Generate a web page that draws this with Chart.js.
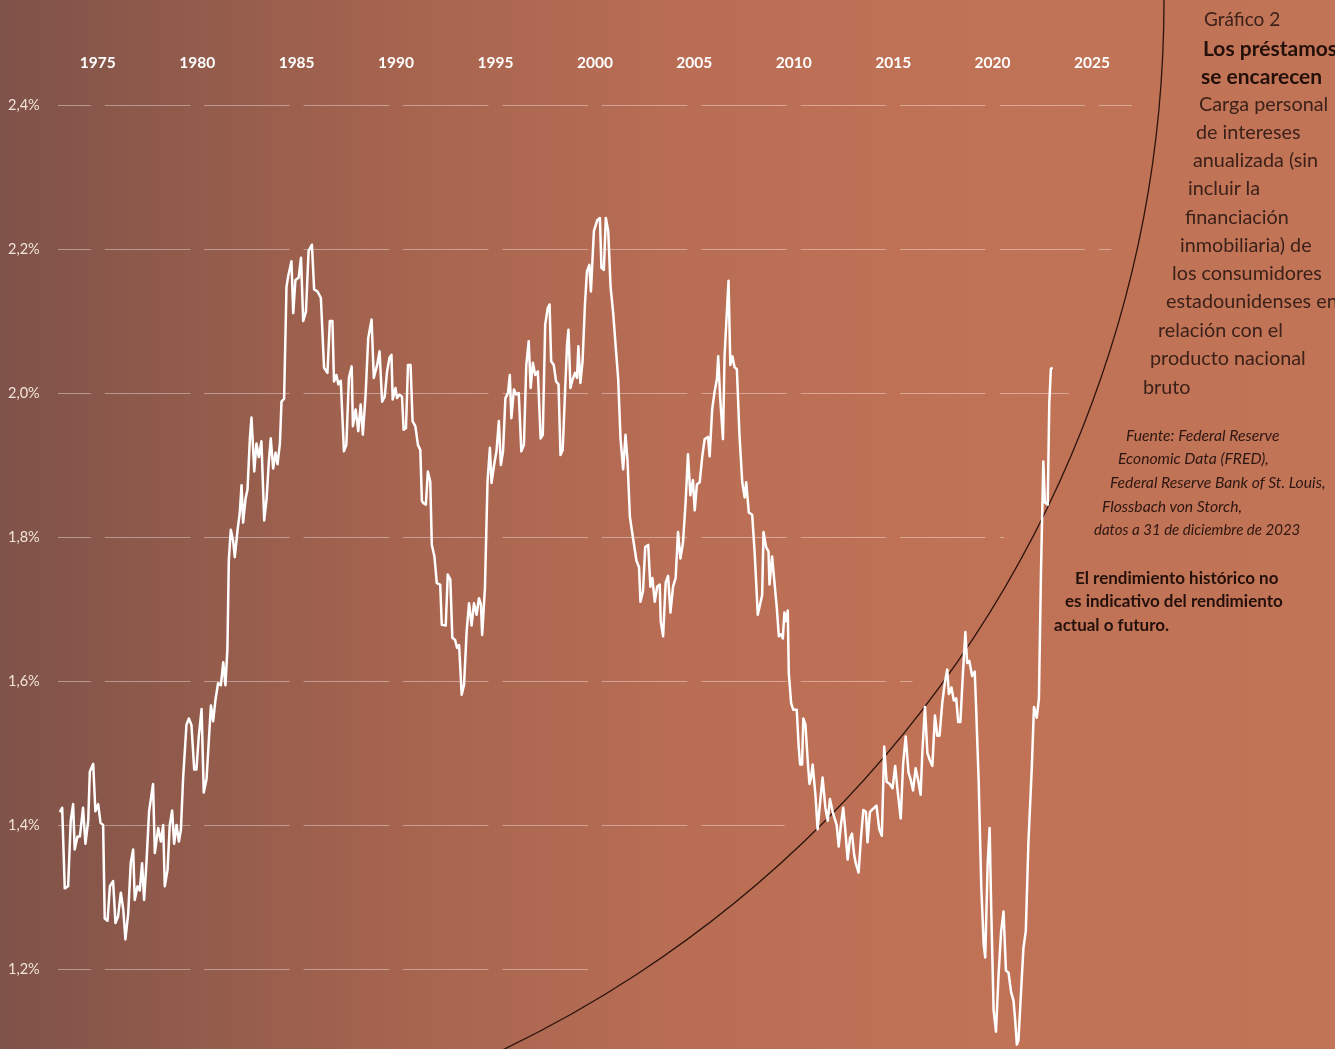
<!DOCTYPE html>
<html lang="es">
<head>
<meta charset="utf-8">
<title>Los préstamos se encarecen</title>
<script src="https://cdn.jsdelivr.net/npm/chart.js@4.4.1/dist/chart.umd.min.js"></script>
<style>
  html, body { margin: 0; padding: 0; }
  body { width: 1335px; height: 1049px; overflow: hidden; position: relative; font-family: Lato, 'Open Sans', sans-serif; }
  #grafico { position: absolute; left: 0; top: 0; }
  .t { position: absolute; white-space: nowrap; line-height: 1; font-size: 19.8px; color: #3b2119; }
  .g { font-size: 19px; }
  .b { font-weight: bold; font-size: 21px; color: #24100a; }
  .f { position: absolute; white-space: nowrap; line-height: 1; font-size: 15.7px; font-style: italic; color: #2d1610; }
  .d { position: absolute; white-space: nowrap; line-height: 1; font-size: 17px; font-weight: bold; color: #24100a; }
</style>
</head>
<body>
<canvas id="grafico" width="1335" height="1049"></canvas>

<div class="t g" style="left:1204px;top:9px">Gráfico 2</div>
<div class="t b" style="left:1203px;top:37px">Los préstamos</div>
<div class="t b" style="left:1201px;top:65px">se encarecen</div>
<div class="t" style="left:1199px;top:94px">Carga personal</div>
<div class="t" style="left:1196px;top:122px">de intereses</div>
<div class="t" style="left:1193px;top:150px">anualizada (sin</div>
<div class="t" style="left:1188px;top:178px">incluir la</div>
<div class="t" style="left:1185px;top:207px">financiación</div>
<div class="t" style="left:1180px;top:235px">inmobiliaria) de</div>
<div class="t" style="left:1172px;top:263px">los consumidores</div>
<div class="t" style="left:1166px;top:291px">estadounidenses en</div>
<div class="t" style="left:1158px;top:320px">relación con el</div>
<div class="t" style="left:1150px;top:348px">producto nacional</div>
<div class="t" style="left:1143px;top:377px">bruto</div>

<div class="f" style="left:1126px;top:428px">Fuente: Federal Reserve</div>
<div class="f" style="left:1118px;top:451px">Economic Data (FRED),</div>
<div class="f" style="left:1110px;top:475px">Federal Reserve Bank of St. Louis,</div>
<div class="f" style="left:1102px;top:499px">Flossbach von Storch,</div>
<div class="f" style="left:1094px;top:522px;font-size:15px">datos a 31 de diciembre de 2023</div>

<div class="d" style="left:1075px;top:569px">El rendimiento histórico no</div>
<div class="d" style="left:1065px;top:592px">es indicativo del rendimiento</div>
<div class="d" style="left:1054px;top:616px">actual o futuro.</div>

<script>
// eje x (años) y eje y (% del PNB)
const xTicks = [1975, 1980, 1985, 1990, 1995, 2000, 2005, 2010, 2015, 2020, 2025];
const yTicks = [1.2, 1.4, 1.6, 1.8, 2.0, 2.2, 2.4];

// fecha de cada observación (año decimal)
const anios = [
  1973.09, 1973.21, 1973.34, 1973.51, 1973.64, 1973.76, 1973.84, 1973.98, 1974.10, 1974.26,
  1974.38, 1974.52, 1974.60, 1974.77, 1974.88, 1975.02, 1975.14, 1975.27, 1975.35, 1975.49,
  1975.61, 1975.77, 1975.89, 1976.02, 1976.16, 1976.28, 1976.39, 1976.53, 1976.66, 1976.78,
  1976.86, 1977.00, 1977.11, 1977.23, 1977.33, 1977.45, 1977.58, 1977.78, 1977.87, 1978.04,
  1978.17, 1978.29, 1978.37, 1978.51, 1978.62, 1978.74, 1978.84, 1978.96, 1979.08, 1979.18,
  1979.29, 1979.46, 1979.58, 1979.71, 1979.85, 1979.96, 1980.08, 1980.22, 1980.33, 1980.47,
  1980.59, 1980.69, 1980.80, 1980.92, 1981.05, 1981.19, 1981.31, 1981.42, 1981.52, 1981.59,
  1981.69, 1981.81, 1981.89, 1982.03, 1982.14, 1982.23, 1982.31, 1982.43, 1982.53, 1982.65,
  1982.73, 1982.87, 1982.98, 1983.10, 1983.23, 1983.37, 1983.49, 1983.60, 1983.70, 1983.82,
  1983.94, 1984.04, 1984.16, 1984.24, 1984.37, 1984.49, 1984.58, 1984.74, 1984.83, 1984.94,
  1985.10, 1985.22, 1985.33, 1985.47, 1985.60, 1985.77, 1985.88, 1986.05, 1986.22, 1986.38,
  1986.55, 1986.67, 1986.80, 1986.88, 1987.00, 1987.10, 1987.22, 1987.38, 1987.50, 1987.63,
  1987.77, 1987.83, 1987.97, 1988.10, 1988.22, 1988.33, 1988.47, 1988.60, 1988.77, 1988.88,
  1989.05, 1989.17, 1989.30, 1989.43, 1989.55, 1989.67, 1989.77, 1989.83, 1989.97, 1990.05,
  1990.17, 1990.30, 1990.38, 1990.50, 1990.60, 1990.73, 1990.83, 1990.97, 1991.10, 1991.22,
  1991.30, 1991.38, 1991.50, 1991.60, 1991.72, 1991.80, 1991.93, 1992.05, 1992.22, 1992.30,
  1992.50, 1992.60, 1992.73, 1992.83, 1992.97, 1993.07, 1993.17, 1993.30, 1993.42, 1993.55,
  1993.67, 1993.80, 1993.92, 1994.05, 1994.17, 1994.27, 1994.33, 1994.47, 1994.60, 1994.72,
  1994.80, 1994.93, 1995.05, 1995.17, 1995.27, 1995.38, 1995.50, 1995.63, 1995.72, 1995.80,
  1995.93, 1996.05, 1996.17, 1996.30, 1996.43, 1996.55, 1996.67, 1996.77, 1996.88, 1997.00,
  1997.13, 1997.27, 1997.38, 1997.50, 1997.63, 1997.72, 1997.80, 1997.93, 1998.05, 1998.17,
  1998.27, 1998.38, 1998.50, 1998.60, 1998.67, 1998.77, 1998.88, 1999.00, 1999.10, 1999.17,
  1999.27, 1999.38, 1999.50, 1999.60, 1999.72, 1999.80, 1999.95, 2000.12, 2000.25, 2000.33,
  2000.45, 2000.55, 2000.67, 2000.79, 2000.92, 2001.05, 2001.17, 2001.29, 2001.42, 2001.54,
  2001.64, 2001.76, 2001.92, 2002.09, 2002.22, 2002.29, 2002.42, 2002.53, 2002.68, 2002.79,
  2002.89, 2003.01, 2003.13, 2003.26, 2003.31, 2003.43, 2003.56, 2003.68, 2003.80, 2003.93,
  2004.06, 2004.18, 2004.30, 2004.43, 2004.57, 2004.68, 2004.80, 2004.93, 2005.02, 2005.13,
  2005.27, 2005.40, 2005.52, 2005.69, 2005.77, 2005.90, 2006.02, 2006.14, 2006.20, 2006.30,
  2006.44, 2006.52, 2006.61, 2006.72, 2006.81, 2006.91, 2007.02, 2007.14, 2007.27, 2007.41,
  2007.53, 2007.61, 2007.74, 2007.91, 2008.03, 2008.11, 2008.19, 2008.31, 2008.41, 2008.48,
  2008.61, 2008.73, 2008.78, 2008.91, 2009.03, 2009.15, 2009.25, 2009.36, 2009.45, 2009.53,
  2009.62, 2009.70, 2009.75, 2009.87, 2009.98, 2010.15, 2010.25, 2010.32, 2010.42, 2010.48,
  2010.59, 2010.70, 2010.79, 2010.87, 2010.95, 2011.09, 2011.20, 2011.32, 2011.45, 2011.59,
  2011.71, 2011.82, 2011.96, 2012.09, 2012.16, 2012.26, 2012.37, 2012.49, 2012.59, 2012.71,
  2012.83, 2012.93, 2013.04, 2013.13, 2013.26, 2013.38, 2013.50, 2013.63, 2013.71, 2013.83,
  2013.93, 2014.05, 2014.16, 2014.30, 2014.43, 2014.55, 2014.67, 2014.83, 2014.97, 2015.10,
  2015.22, 2015.38, 2015.50, 2015.63, 2015.77, 2015.88, 2016.00, 2016.13, 2016.27, 2016.38,
  2016.47, 2016.60, 2016.72, 2016.83, 2016.97, 2017.10, 2017.22, 2017.33, 2017.47, 2017.60,
  2017.72, 2017.80, 2017.93, 2018.05, 2018.17, 2018.27, 2018.38, 2018.50, 2018.63, 2018.72,
  2018.83, 2018.97, 2019.10, 2019.17, 2019.30, 2019.43, 2019.55, 2019.63, 2019.75, 2019.85,
  2019.93, 2020.05, 2020.17, 2020.30, 2020.43, 2020.55, 2020.67, 2020.80, 2020.93, 2021.05,
  2021.13, 2021.22, 2021.30, 2021.43, 2021.55, 2021.67, 2021.80, 2021.97, 2022.08, 2022.22,
  2022.33, 2022.43, 2022.55, 2022.63, 2022.77, 2022.85, 2022.93, 2023.02
];

// carga de intereses en % del PNB
const carga = [
  1.418, 1.424, 1.312, 1.315, 1.406, 1.429, 1.366, 1.384, 1.384, 1.424,
  1.374, 1.406, 1.474, 1.485, 1.419, 1.429, 1.403, 1.400, 1.270, 1.267,
  1.315, 1.322, 1.264, 1.273, 1.306, 1.283, 1.241, 1.277, 1.348, 1.366,
  1.296, 1.315, 1.309, 1.347, 1.296, 1.348, 1.419, 1.457, 1.361, 1.396,
  1.377, 1.400, 1.315, 1.338, 1.400, 1.420, 1.374, 1.400, 1.377, 1.393,
  1.464, 1.539, 1.548, 1.539, 1.477, 1.477, 1.523, 1.561, 1.445, 1.464,
  1.520, 1.566, 1.544, 1.574, 1.597, 1.594, 1.626, 1.594, 1.645, 1.768,
  1.810, 1.794, 1.772, 1.810, 1.833, 1.872, 1.820, 1.853, 1.866, 1.937,
  1.966, 1.891, 1.930, 1.911, 1.933, 1.823, 1.853, 1.904, 1.937, 1.895,
  1.917, 1.901, 1.930, 1.988, 1.992, 2.147, 2.163, 2.183, 2.111, 2.157,
  2.160, 2.188, 2.100, 2.113, 2.197, 2.206, 2.144, 2.141, 2.132, 2.035,
  2.028, 2.100, 2.100, 2.016, 2.025, 2.012, 2.017, 1.919, 1.928, 2.021,
  2.037, 1.954, 1.977, 1.947, 1.984, 1.942, 1.998, 2.076, 2.102, 2.021,
  2.039, 2.058, 1.988, 1.995, 2.030, 2.049, 2.053, 1.991, 2.007, 1.993,
  1.998, 1.995, 1.949, 1.951, 2.039, 2.039, 1.961, 1.954, 1.928, 1.921,
  1.850, 1.847, 1.845, 1.891, 1.877, 1.789, 1.773, 1.736, 1.734, 1.678,
  1.677, 1.748, 1.741, 1.660, 1.657, 1.646, 1.650, 1.581, 1.595, 1.669,
  1.708, 1.677, 1.708, 1.692, 1.715, 1.706, 1.664, 1.729, 1.877, 1.924,
  1.875, 1.900, 1.919, 1.961, 1.900, 1.919, 1.993, 2.000, 2.025, 1.965,
  2.005, 1.998, 2.000, 1.919, 1.928, 2.039, 2.072, 2.007, 2.042, 2.025,
  2.030, 1.937, 1.942, 2.095, 2.118, 2.123, 2.044, 2.039, 2.016, 2.012,
  1.914, 1.921, 2.002, 2.067, 2.088, 2.007, 2.019, 2.028, 2.021, 2.065,
  2.014, 2.044, 2.123, 2.169, 2.178, 2.141, 2.225, 2.240, 2.243, 2.174,
  2.171, 2.243, 2.225, 2.147, 2.111, 2.063, 2.020, 1.936, 1.894, 1.942,
  1.906, 1.828, 1.798, 1.767, 1.758, 1.710, 1.725, 1.786, 1.789, 1.731,
  1.743, 1.710, 1.731, 1.734, 1.683, 1.662, 1.737, 1.746, 1.695, 1.731,
  1.743, 1.807, 1.770, 1.792, 1.852, 1.915, 1.858, 1.879, 1.837, 1.873,
  1.876, 1.912, 1.936, 1.939, 1.912, 1.978, 2.002, 2.020, 2.051, 1.993,
  1.936, 2.051, 2.099, 2.156, 2.039, 2.051, 2.036, 2.033, 1.942, 1.876,
  1.855, 1.876, 1.834, 1.831, 1.780, 1.737, 1.692, 1.707, 1.719, 1.807,
  1.786, 1.780, 1.734, 1.773, 1.737, 1.701, 1.662, 1.665, 1.659, 1.695,
  1.683, 1.698, 1.611, 1.569, 1.560, 1.560, 1.508, 1.484, 1.484, 1.548,
  1.539, 1.490, 1.457, 1.466, 1.484, 1.442, 1.394, 1.430, 1.466, 1.424,
  1.406, 1.436, 1.418, 1.406, 1.400, 1.370, 1.400, 1.424, 1.394, 1.352,
  1.382, 1.388, 1.358, 1.346, 1.334, 1.382, 1.421, 1.418, 1.376, 1.418,
  1.421, 1.424, 1.427, 1.394, 1.385, 1.509, 1.460, 1.457, 1.451, 1.482,
  1.448, 1.409, 1.485, 1.523, 1.473, 1.463, 1.448, 1.479, 1.460, 1.442,
  1.503, 1.564, 1.500, 1.491, 1.482, 1.552, 1.524, 1.524, 1.570, 1.598,
  1.616, 1.582, 1.591, 1.573, 1.576, 1.543, 1.543, 1.607, 1.668, 1.625,
  1.628, 1.607, 1.613, 1.564, 1.460, 1.314, 1.235, 1.216, 1.345, 1.396,
  1.284, 1.143, 1.113, 1.192, 1.253, 1.280, 1.198, 1.195, 1.168, 1.156,
  1.131, 1.095, 1.101, 1.168, 1.229, 1.253, 1.375, 1.479, 1.564, 1.549,
  1.576, 1.747, 1.905, 1.848, 1.845, 1.985, 2.034, 2.035
];

// límites de los ejes
const X_MIN = 1973, X_MAX = 2027.01;
const Y_MIN = 1.0889, Y_MAX = 2.4417;

// arco grande (centro en la esquina superior izquierda)
const RADIO_ARCO = 1164;
const RADIO_REJILLA = 1139;

const fondo = {
    id: 'fondo',
    beforeDraw(chart) {
        const { ctx, width, height } = chart;
        const g = ctx.createLinearGradient(0, 0, width, 0);
        g.addColorStop(0, '#7f5249');
        g.addColorStop(0.12, '#8f5a4b');
        g.addColorStop(0.3, '#a6644f');
        g.addColorStop(0.5, '#b86d54');
        g.addColorStop(0.7, '#c07256');
        g.addColorStop(1, '#c27457');
        ctx.save();
        ctx.fillStyle = g;
        ctx.fillRect(0, 0, width, height);
        ctx.restore();
    }
};

// líneas de rejilla cortadas en cada año marcado y recortadas por el arco
const rejilla = {
    id: 'rejilla',
    beforeDatasetsDraw(chart) {
        const { ctx, chartArea: a, scales: { x, y } } = chart;
        const cortes = xTicks.map(v => x.getPixelForValue(v));
        const hueco = 7;

        ctx.save();
        ctx.beginPath();
        ctx.arc(0, 0, RADIO_REJILLA, 0, Math.PI * 2);
        ctx.clip();
        ctx.strokeStyle = 'rgba(255, 255, 255, 0.38)';
        ctx.lineWidth = 1;
        yTicks.forEach(v => {
            const py = Math.round(y.getPixelForValue(v)) + 0.5;
            let desde = a.left;
            const tramos = [];
            cortes.forEach(c => { tramos.push([desde, c - hueco]); desde = c + hueco; });
            tramos.push([desde, a.right]);
            ctx.beginPath();
            tramos.forEach(([x0, x1]) => { if (x1 > x0) { ctx.moveTo(x0, py); ctx.lineTo(x1, py); } });
            ctx.stroke();
        });
        ctx.restore();

        ctx.save();
        ctx.beginPath();
        ctx.arc(0, 0, RADIO_ARCO, 0, Math.PI / 2);
        ctx.strokeStyle = '#2c140d';
        ctx.lineWidth = 1.3;
        ctx.stroke();
        ctx.restore();
    }
};

new Chart(document.getElementById('grafico'), {
    type: 'line',
    data: {
        datasets: [{
            data: anios.map((a, i) => ({ x: a, y: carga[i] })),
            borderColor: '#ffffff',
            borderWidth: 2.5,
            borderJoinStyle: 'round',
            pointRadius: 0,
            tension: 0,
            clip: false
        }]
    },
    options: {
        responsive: false,
        animation: false,
        layout: { autoPadding: false, padding: { left: 8, right: 203, top: 0, bottom: 0 } },
        plugins: { legend: { display: false }, tooltip: { enabled: false } },
        scales: {
            x: {
                type: 'linear',
                position: 'top',
                min: X_MIN,
                max: X_MAX,
                afterBuildTicks: s => { s.ticks = xTicks.map(v => ({ value: v })); },
                afterFit: s => { s.height = 75; s.paddingLeft = 0; s.paddingRight = 0; },
                grid: { display: false, drawTicks: false },
                border: { display: false },
                ticks: {
                    autoSkip: false,
                    maxRotation: 0,
                    padding: 3,
                    color: '#ffffff',
                    font: { family: 'Lato', size: 15.5, weight: 'bold' },
                    callback: v => String(v)
                }
            },
            y: {
                min: Y_MIN,
                max: Y_MAX,
                afterBuildTicks: s => { s.ticks = yTicks.map(v => ({ value: v })); },
                afterFit: s => { s.width = 50; s.paddingTop = 0; s.paddingBottom = 0; },
                grid: { display: false, drawTicks: false },
                border: { display: false },
                ticks: {
                    crossAlign: 'far',
                    autoSkip: false,
                    color: '#f3e4dc',
                    font: { family: 'Lato', size: 14.5 },
                    callback: v => v.toFixed(1).replace('.', ',') + '%'
                }
            }
        }
    },
    plugins: [fondo, rejilla]
});
</script>
</body>
</html>
